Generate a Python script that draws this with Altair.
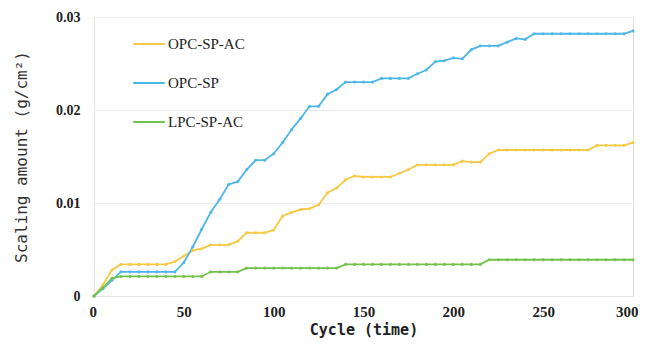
import altair as alt
import pandas as pd

cycles = list(range(0, 301, 5))

opc_sp_ac = [0, 0.0012, 0.0028, 0.0034, 0.0034, 0.0034, 0.0034, 0.0034, 0.0034, 0.0037,
             0.0043, 0.0049, 0.0051, 0.0055, 0.0055, 0.0055, 0.0059, 0.0068, 0.0068, 0.0068,
             0.0071, 0.0086, 0.0090, 0.0093, 0.0094, 0.0098, 0.0111, 0.0116, 0.0125, 0.0129,
             0.0128, 0.0128, 0.0128, 0.0128, 0.0132, 0.0136, 0.0141, 0.0141, 0.0141, 0.0141,
             0.0141, 0.0145, 0.0144, 0.0144, 0.0153, 0.0157, 0.0157, 0.0157, 0.0157, 0.0157,
             0.0157, 0.0157, 0.0157, 0.0157, 0.0157, 0.0157, 0.0162, 0.0162, 0.0162, 0.0162,
             0.0165]

opc_sp = [0, 0.0008, 0.0017, 0.0026, 0.0026, 0.0026, 0.0026, 0.0026, 0.0026, 0.0026,
          0.0036, 0.0053, 0.0072, 0.0090, 0.0104, 0.0120, 0.0123, 0.0136, 0.0146, 0.0146,
          0.0153, 0.0165, 0.0179, 0.0191, 0.0204, 0.0204, 0.0217, 0.0222, 0.0230, 0.0230,
          0.0230, 0.0230, 0.0234, 0.0234, 0.0234, 0.0234, 0.0239, 0.0243, 0.0252, 0.0253,
          0.0256, 0.0255, 0.0265, 0.0269, 0.0269, 0.0269, 0.0273, 0.0277, 0.0276, 0.0282,
          0.0282, 0.0282, 0.0282, 0.0282, 0.0282, 0.0282, 0.0282, 0.0282, 0.0282, 0.0282,
          0.0285]

lpc_sp_ac = [0, 0.0009, 0.0019, 0.0021, 0.0021, 0.0021, 0.0021, 0.0021, 0.0021, 0.0021,
             0.0021, 0.0021, 0.0021, 0.0026, 0.0026, 0.0026, 0.0026, 0.0030, 0.0030, 0.0030,
             0.0030, 0.0030, 0.0030, 0.0030, 0.0030, 0.0030, 0.0030, 0.0030, 0.0034, 0.0034,
             0.0034, 0.0034, 0.0034, 0.0034, 0.0034, 0.0034, 0.0034, 0.0034, 0.0034, 0.0034,
             0.0034, 0.0034, 0.0034, 0.0034, 0.0039, 0.0039, 0.0039, 0.0039, 0.0039, 0.0039,
             0.0039, 0.0039, 0.0039, 0.0039, 0.0039, 0.0039, 0.0039, 0.0039, 0.0039, 0.0039,
             0.0039]

series_names = ["OPC-SP-AC", "OPC-SP", "LPC-SP-AC"]
series_colors = ["#F6C945", "#4DB6E8", "#72C14A"]
y_ticks = [0, 0.01, 0.02, 0.03]
x_ticks = [0, 50, 100, 150, 200, 250, 300]

rows = []
for name, vals in zip(series_names, [opc_sp_ac, opc_sp, lpc_sp_ac]):
    for c, v in zip(cycles, vals):
        rows.append({"cycle": c, "value": v, "series": name})
df = pd.DataFrame(rows)

color = alt.Color(
    "series:N",
    scale=alt.Scale(domain=series_names, range=series_colors),
    legend=alt.Legend(
        title=None,
        orient="none",
        legendX=38,
        legendY=10,
        symbolType="stroke",
        symbolSize=1000,
        symbolStrokeWidth=2,
        labelFont="Liberation Serif",
        labelFontSize=15,
        labelColor="#222222",
        rowPadding=14,
        labelOffset=2,
    ),
)

x = alt.X(
    "cycle:Q",
    scale=alt.Scale(domain=[0, 300], nice=False),
    axis=alt.Axis(
        values=x_ticks,
        title="Cycle (time)",
        titleFont="DejaVu Sans Mono",
        titleFontSize=15,
        titleFontWeight="bold",
        titleColor="#222222",
        titlePadding=3,
        labelFont="Liberation Serif",
        labelFontSize=15,
        labelFontWeight="bold",
        labelColor="#222222",
        labelPadding=8,
        labelFlush=True,
        labelFlushOffset=5,
        ticks=False,
        grid=False,
        domainColor="#e4e4e4",
    ),
)

y = alt.Y(
    "value:Q",
    scale=alt.Scale(domain=[0, 0.03], nice=False),
    axis=alt.Axis(
        values=y_ticks,
        labelExpr="datum.value == 0 ? '0' : format(datum.value, '.2f')",
        title="Scaling amount (g/cm²)",
        titleFont="DejaVu Sans Mono",
        titleFontSize=16,
        titleFontWeight="normal",
        titleColor="#333333",
        titlePadding=26,
        labelFont="Liberation Serif",
        labelFontSize=14,
        labelFontWeight="bold",
        labelColor="#222222",
        labelPadding=14,
        labelFlush=False,
        ticks=False,
        grid=True,
        gridColor="#ececec",
        domainColor="#e4e4e4",
    ),
)

base = alt.Chart(df)
lines = base.mark_line(strokeWidth=1.8).encode(x=x, y=y, color=color)
points = base.mark_point(filled=True, size=10, opacity=0.9).encode(
    x="cycle:Q", y="value:Q", color=alt.Color("series:N", scale=alt.Scale(domain=series_names, range=series_colors), legend=None)
)

chart = (
    alt.layer(lines, points)
    .properties(
        width=539,
        height=279,
        autosize=alt.AutoSizeParams(type="none"),
        padding={"left": 86, "top": 9, "right": 6, "bottom": 45},
    )
    .configure_view(stroke=None)
    .configure(background="white")
)

chart.save("out.html", embed_options={"renderer": "svg", "actions": False})
